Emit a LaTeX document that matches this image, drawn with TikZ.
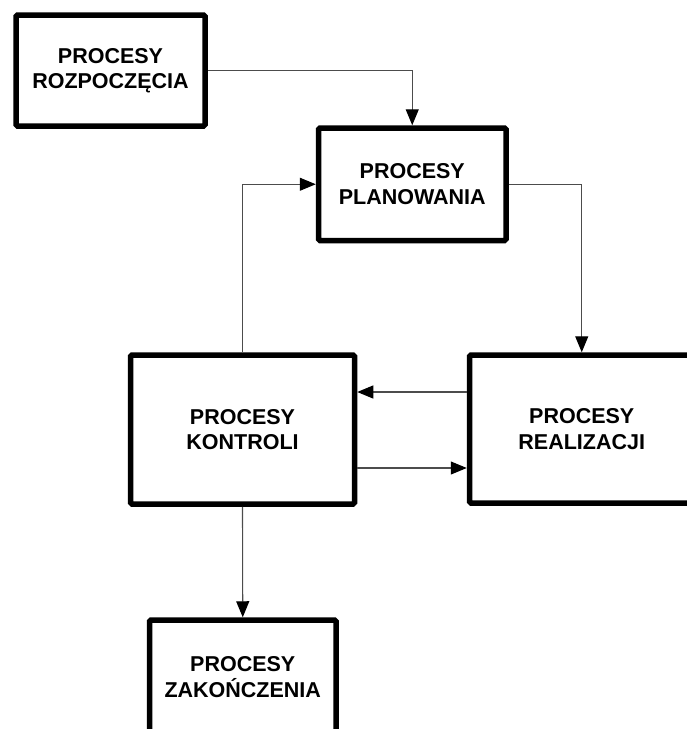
\documentclass[tikz,border=0pt]{standalone}
\usepackage{fontspec}
\setmainfont{Liberation Sans}
\usetikzlibrary{arrows.meta}
\begin{document}
\begin{tikzpicture}[x=1pt,y=-1pt,
  procbox/.style={draw=black, line width=5.5pt, rounded corners=1.5pt, fill=white,
    align=center, inner sep=0pt,
    font=\bfseries\fontsize{21.5}{25.5}\selectfont},
  link/.style={draw=black!70, line width=1.1pt,
    -{Triangle[length=16pt,width=13pt,fill=black,color=black]}}]
\useasboundingbox (0,0) rectangle (687,729);
\clip (0,0) rectangle (687,729);
% process boxes
\node[procbox, minimum width=189pt, minimum height=111pt] (rozp) at (110.5,70.5) {PROCESY\\ROZPOCZĘCIA};
\node[procbox, minimum width=187.5pt, minimum height=112.5pt] (plan) at (412.25,184.25) {PROCESY\\PLANOWANIA};
\node[procbox, minimum width=224pt, minimum height=149pt] (kontr) at (242.5,429.5) {PROCESY\\KONTROLI};
\node[procbox, minimum width=224.5pt, minimum height=148pt] (real) at (581.75,429) {PROCESY\\REALIZACJI};
\node[procbox, minimum width=186.5pt, minimum height=114pt] (zak) at (242.75,677) {PROCESY\\ZAKOŃCZENIA};
% connectors
\draw[link] (rozp.east) -| (plan.north);
\draw[link] (plan.east) -| (real.north);
\draw[link] (kontr.north) |- (plan.west);
\draw[link] (real.west |- 0,392) -- (kontr.east |- 0,392);
\draw[link] (kontr.east |- 0,468) -- (real.west |- 0,468);
\draw[link] (kontr.south) -- (zak.north);
\end{tikzpicture}
\end{document}
